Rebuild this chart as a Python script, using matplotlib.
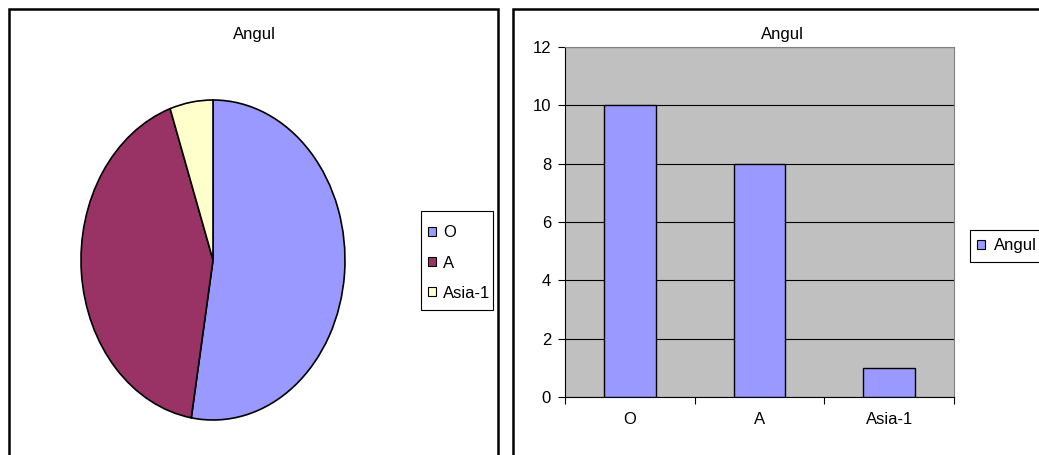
import matplotlib
matplotlib.use("Agg")
import matplotlib.pyplot as plt
from matplotlib.patches import Patch, Rectangle

categories = ["O", "A", "Asia-1"]
values = [10, 8, 1]
title = "Angul"
pie_colors = ["#9999FF", "#993366", "#FFFFCC"]
bar_color = "#9999FF"
yticks = [0, 2, 4, 6, 8, 10, 12]

plt.rcParams['font.family'] = ['Liberation Sans', 'DejaVu Sans']
W, H = 1039, 455
fig = plt.figure(figsize=(W / 100, H / 100), dpi=100)

def px(l, t, r, b):
    return [l / W, 1 - b / H, (r - l) / W, (b - t) / H]

def frame(l, t, r, b, lw=1.8, color="black"):
    fig.add_artist(Rectangle((l / W, 1 - b / H), (r - l) / W, (b - t) / H, fill=False,
                             edgecolor=color, linewidth=lw, transform=fig.transFigure))

# panel borders
for (l, t, r, b) in [(9, 9, 498, 470), (513, 9, 1060, 470)]:
    frame(l, t, r, b, lw=1.8)

tfs = 12
fs = 12
# titles
fig.text(254 / W, 1 - 34 / H, title, ha="center", va="center", fontsize=tfs)
fig.text(782 / W, 1 - 34 / H, title, ha="center", va="center", fontsize=tfs)

# pie
axp = fig.add_axes(px(81, 100, 345, 420))
axp.pie(values, colors=pie_colors, startangle=90, counterclock=False,
        wedgeprops=dict(edgecolor="black", linewidth=1.2))
axp.set_aspect("auto")
axp.set_xlim(-1, 1)
axp.set_ylim(-1, 1)

frame(421, 211, 493, 310, lw=0.8)
handles = [Patch(facecolor=c, edgecolor="black", linewidth=0.8) for c in pie_colors]
leg = fig.legend(handles, categories, loc="center left", bbox_to_anchor=(428 / W, 1 - 263 / H),
                 fontsize=fs, frameon=False,
                 handlelength=0.45, handleheight=0.45, handletextpad=0.45, labelspacing=0.9,
                 borderpad=0, borderaxespad=0)

# bar
axb = fig.add_axes(px(565, 47, 954, 397))
axb.set_facecolor("#C0C0C0")
x = list(range(len(categories)))
axb.bar(x, values, width=0.4, color=bar_color, edgecolor="black", linewidth=1.0, zorder=3)
axb.set_xlim(-0.5, 2.5)
axb.set_ylim(0, 12)
axb.set_yticks(yticks)
axb.yaxis.grid(True, color="black", linewidth=0.8, zorder=1)
axb.set_axisbelow(True)
axb.set_xticks(x)
axb.set_xticklabels(categories, fontsize=fs)
axb.set_xticks([-0.5, 0.5, 1.5, 2.5], minor=True)
axb.tick_params(axis="x", which="major", length=0, pad=11)
axb.tick_params(axis="x", which="minor", length=5, direction="out", width=0.8)
axb.tick_params(axis="y", length=5, direction="out", width=0.8, labelsize=fs, pad=5)
for s in ["left", "bottom"]:
    axb.spines[s].set_color("black")
    axb.spines[s].set_linewidth(0.8)
for s in ["top", "right"]:
    axb.spines[s].set_color("#808080")
    axb.spines[s].set_linewidth(0.8)

frame(970, 230, 1050, 262, lw=0.8)
leg2 = fig.legend([Patch(facecolor=bar_color, edgecolor="black", linewidth=0.8)], [title],
                  loc="center left", bbox_to_anchor=(977 / W, 1 - 246 / H),
                  fontsize=fs, frameon=False,
                  handlelength=0.5, handleheight=0.5, handletextpad=0.5,
                  borderpad=0, borderaxespad=0)

fig.savefig("out.png", dpi=100)
